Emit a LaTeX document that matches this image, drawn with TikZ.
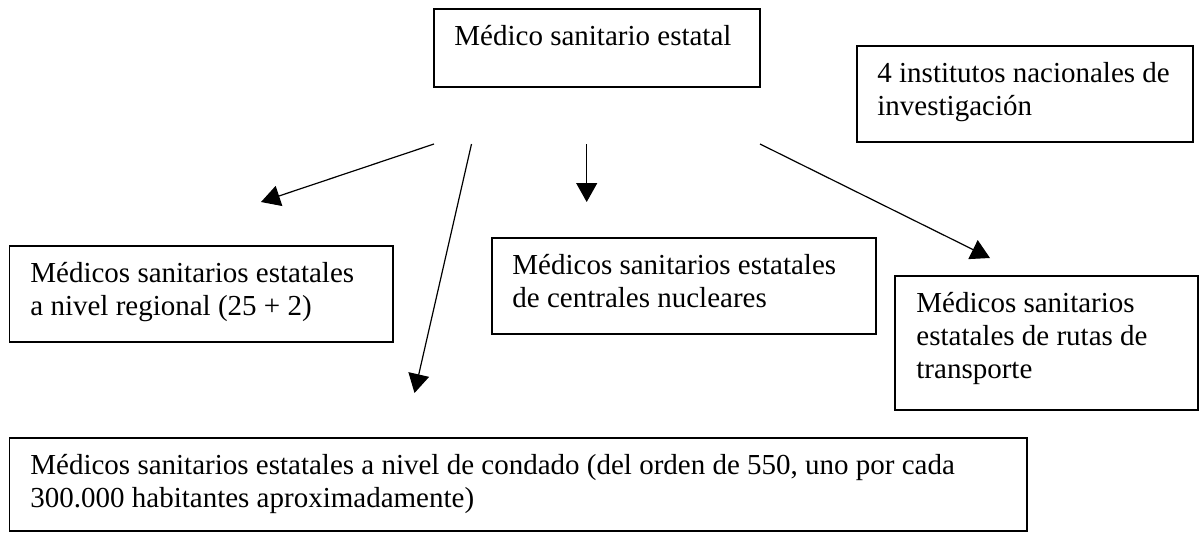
\documentclass[tikz,border=0pt]{standalone}
\usepackage{fontspec}
\setmainfont{Liberation Serif}
\usetikzlibrary{arrows.meta,fit}
\tikzset{
  box/.style={draw=black, line width=0.85pt, inner sep=0pt, fill=none},
  txt/.style={inner sep=0pt, anchor=base west, align=left, font=\fontsize{14.5}{16.5}\selectfont},
  conn/.style={line width=0.6pt, -{Triangle[length=9.5pt,width=10.5pt]}}
}
\begin{document}
\begin{tikzpicture}[x=0.5pt,y=-0.5pt]
\useasboundingbox (0,0) rectangle (1199,532);
% boxes
\node[box, fit={(434,9) (760,87)}] (b1) {};
\node[box, fit={(857,46) (1193,142)}] (b2) {};
\node[box, fit={(9.6,246) (393,342)}] (b3) {};
\node[box, fit={(492,238) (876,334)}] (b4) {};
\node[box, fit={(895,276) (1198,410)}] (b5) {};
\node[box, fit={(9.6,438) (1027,531)}] (b6) {};
% texts (anchor = baseline of the last line)
\node[txt] (t1) at (454,45) {Médico sanitario estatal};
\node[txt] (t2) at (877,115) {4 institutos nacionales de\\investigación};
\node[txt] (t3) at (30,315) {Médicos sanitarios estatales\\a nivel regional (25 + 2)};
\node[txt] (t4) at (512,307) {Médicos sanitarios estatales\\de centrales nucleares};
\node[txt] (t5) at (916,378) {Médicos sanitarios\\estatales de rutas de\\transporte};
\node[txt] (t6) at (30,507) {Médicos sanitarios estatales a nivel de condado (del orden de 550, uno por cada\\300.000 habitantes aproximadamente)};
% connector end points
\coordinate (s1) at (434,144);
\coordinate (e1) at (261,202);
\coordinate (s2) at (471.5,144);
\coordinate (e2) at (414.5,393);
\coordinate (s3) at (586.7,144);
\coordinate (e3) at (586.7,202);
\coordinate (s4) at (760,144);
\coordinate (e4) at (990,258);
\draw[conn] (s1) -- (e1);
\draw[conn] (s2) -- (e2);
\draw[conn] (s3) -- (e3);
\draw[conn] (s4) -- (e4);
\end{tikzpicture}
\end{document}
